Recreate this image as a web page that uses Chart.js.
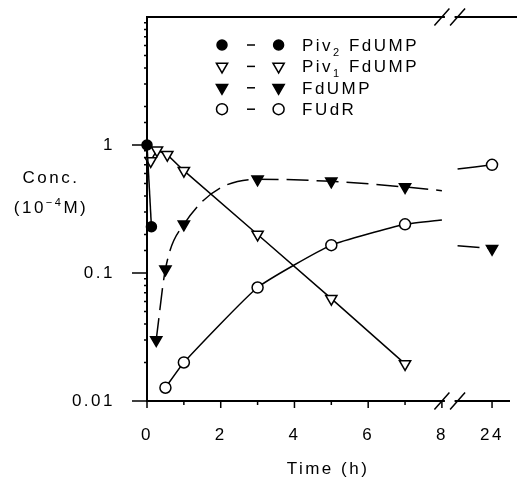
<!DOCTYPE html>
<html lang="en">
<head>
<meta charset="UTF-8">
<title>Conc. vs Time</title>
<script src="https://cdn.jsdelivr.net/npm/chart.js"></script>
<style>
  html, body { margin: 0; padding: 0; background: #fff; }
</style>
</head>
<body>
<canvas id="concChart" width="517" height="481"></canvas>
<script>
// times in hours, concentrations in 10^-4 M
const piv2Time = [0, 0.12];
const piv2Conc = [1.0, 0.23];
const piv1Time = [0.1, 0.27, 0.55, 1, 3, 5, 7];
const piv1Conc = [0.75, 0.91, 0.84, 0.63, 0.2, 0.063, 0.0195];
const fdumpTime = [0.25, 0.5, 1, 3, 5, 7, 24];
const fdumpConc = [0.03, 0.107, 0.24, 0.54, 0.52, 0.47, 0.155];
const fudrTime = [0.5, 1, 3, 5, 7, 24];
const fudrConc = [0.0127, 0.02, 0.077, 0.165, 0.24, 0.70];

// where the curves meet the axis break (left side / right side)
const breakTimes = [8, 13];
const fdumpAtBreak = [0.44, 0.163];
const fudrAtBreak = [0.26, 0.65];

const xTickHours = [0, 2, 4, 6, 8, 24];
const xMinorHours = [1, 3, 5, 7];
const yTickValues = [0.01, 0.1, 1];

const FONT = '"Liberation Sans", Arial, sans-serif';
const SPACING = '2.5px';

// broken time axis: linear up to 8 h, compressed after
const breakFrom = 8;
function pos(h) {
  return h <= breakFrom ? h : breakFrom + (h - breakFrom) * 0.085;
}

function buildPoints(times, conc, atBreak) {
  const left = [], right = [];
  times.forEach((h, i) => (h <= breakFrom ? left : right).push({x: pos(h), y: conc[i], mark: true}));
  if (!atBreak) return left;
  return [
    ...left,
    {x: pos(breakTimes[0]), y: atBreak[0], mark: false},
    {x: (pos(breakTimes[0]) + pos(breakTimes[1])) / 2, y: null},
    {x: pos(breakTimes[1]), y: atBreak[1], mark: false},
    ...right
  ];
}

const series = [
  {label: 'Piv2', sub: '2', pts: buildPoints(piv2Time, piv2Conc), style: 'circle', r: 5, fill: '#000', dash: [], curve: 'none'},
  {label: 'Piv1', sub: '1', pts: buildPoints(piv1Time, piv1Conc), style: 'triangle', r: 6.5, fill: '#fff', dash: [], curve: 'none'},
  {label: 'FdUMP', pts: buildPoints(fdumpTime, fdumpConc, fdumpAtBreak), style: 'triangle', r: 6.5, fill: '#000', dash: [22, 8], curve: 'monotone'},
  {label: 'FUdR', pts: buildPoints(fudrTime, fudrConc, fudrAtBreak), style: 'circle', r: 5.5, fill: '#fff', dash: [], curve: 'soft'}
];

function setSpacing(chart) { chart.ctx.letterSpacing = SPACING; }

function drawRich(ctx, parts, x, baseline, align) {
  const widths = parts.map(p => { ctx.font = p[1] + 'px ' + FONT; return ctx.measureText(p[0]).width; });
  const total = widths.reduce((a, b) => a + b, 0);
  let cx = align === 'center' ? x - total / 2 : x;
  ctx.textAlign = 'left';
  ctx.textBaseline = 'alphabetic';
  parts.forEach((p, i) => {
    ctx.font = p[1] + 'px ' + FONT;
    ctx.fillText(p[0], cx, baseline + p[2]);
    cx += widths[i];
  });
}

const frame = {
  id: 'frame',
  beforeLayout: setSpacing,
  beforeDraw: setSpacing,
  afterDraw(chart) {
    const {ctx, chartArea: a, scales: {x, y}} = chart;
    ctx.save();
    ctx.letterSpacing = SPACING;
    ctx.strokeStyle = '#000';
    ctx.fillStyle = '#000';

    // top border
    ctx.lineWidth = 2;
    ctx.beginPath();
    ctx.moveTo(a.left - 1, a.top);
    ctx.lineTo(chart.width, a.top);
    ctx.stroke();

    // tick marks
    ctx.lineWidth = 1.5;
    ctx.beginPath();
    y.ticks.forEach(t => {
      if (t.value >= y.max) return;
      const lg = Math.log10(t.value);
      const major = Math.abs(lg - Math.round(lg)) < 1e-6;
      const py = y.getPixelForValue(t.value);
      ctx.moveTo(a.left, py);
      ctx.lineTo(a.left - (major ? 15 : 3), py);
    });
    xTickHours.forEach(h => {
      const px = x.getPixelForValue(pos(h));
      ctx.moveTo(px, a.bottom);
      ctx.lineTo(px, a.bottom + 7);
    });
    xMinorHours.forEach(h => {
      const px = x.getPixelForValue(pos(h));
      ctx.moveTo(px, a.bottom);
      ctx.lineTo(px, a.bottom + 4);
    });
    ctx.stroke();

    // axis break
    const b1 = x.getPixelForValue(pos(breakTimes[0]));
    const b2 = x.getPixelForValue(pos(breakTimes[1]));
    [a.top, a.bottom].forEach(py => {
      ctx.fillStyle = '#fff';
      ctx.fillRect(b1 + 3, py - 3, b2 - b1 - 6, 6);
      ctx.lineWidth = 1.5;
      ctx.beginPath();
      [b1, b2].forEach(px => {
        ctx.moveTo(px - 7.5, py + 8.5);
        ctx.lineTo(px + 7.5, py - 8.5);
      });
      ctx.stroke();
    });

    // y title
    ctx.fillStyle = '#000';
    drawRich(ctx, [['Conc.', 17, 0]], 51, 183, 'center');
    drawRich(ctx, [['(10', 17, 0], ['\u2212' + '4', 11, -7], ['M)', 17, 0]], 51, 213, 'center');

    // legend
    const lx = a.left + 75, ly = a.top + 28;
    series.forEach((s, i) => {
      const cy = ly + i * 21.4;
      const opts = {pointStyle: s.style, radius: s.r, rotation: s.style === 'triangle' ? 180 : 0, borderWidth: 1.5};
      [lx, lx + 56.6].forEach(px => {
        ctx.fillStyle = s.fill;
        ctx.strokeStyle = '#000';
        ctx.lineWidth = 1.5;
        Chart.helpers.drawPoint(ctx, opts, px, cy);
      });
      ctx.lineWidth = 1.5;
      ctx.beginPath();
      ctx.moveTo(lx + 25, cy);
      ctx.lineTo(lx + 33, cy);
      ctx.stroke();
      ctx.fillStyle = '#000';
      const parts = s.sub
        ? [['Piv', 17, 0], [s.sub, 11, 5], [' FdUMP', 17, 0]]
        : [[s.label, 17, 0]];
      drawRich(ctx, parts, lx + 80, cy + 6, 'left');
    });
    ctx.restore();
  }
};

function noPad(sc) {
  sc.paddingTop = 0;
  sc.paddingBottom = 0;
  sc.paddingLeft = 0;
  sc.paddingRight = 0;
}

const ctx = document.getElementById('concChart').getContext('2d');
new Chart(ctx, {
  type: 'scatter',
  data: {
    datasets: series.map(s => ({
      label: s.label,
      data: s.pts,
      showLine: true,
      clip: false,
      borderColor: '#000',
      borderWidth: 1.5,
      borderDash: s.dash,
      cubicInterpolationMode: s.curve === 'monotone' ? 'monotone' : 'default',
      tension: s.curve === 'soft' ? 0.15 : 0,
      pointStyle: s.style,
      rotation: s.style === 'triangle' ? 180 : 0,
      pointRadius: c => (c.raw && c.raw.mark ? s.r : 0),
      pointBackgroundColor: s.fill,
      pointBorderColor: '#000',
      pointBorderWidth: 1.5
    }))
  },
  plugins: [frame],
  options: {
    responsive: false,
    devicePixelRatio: 1,
    animation: false,
    events: [],
    layout: {padding: {top: 17, right: 5, left: 0, bottom: 0}},
    plugins: {legend: {display: false}, tooltip: {enabled: false}},
    scales: {
      x: {
        type: 'linear',
        min: 0,
        max: 9.82,
        grid: {display: false, drawTicks: false},
        border: {display: true, color: '#000', width: 2},
        afterBuildTicks: sc => { sc.ticks = xTickHours.map(h => ({value: pos(h)})); },
        afterFit: sc => { sc.height = 80; noPad(sc); },
        ticks: {
          autoSkip: false,
          maxRotation: 0,
          padding: 24,
          color: '#000',
          font: {family: FONT, size: 17},
          callback: (v, i) => String(xTickHours[i])
        },
        title: {
          display: true,
          text: 'Time (h)',
          color: '#000',
          font: {family: FONT, size: 17},
          padding: {top: 0, bottom: 1}
        }
      },
      y: {
        type: 'logarithmic',
        min: 0.01,
        max: 10,
        grid: {display: false, drawTicks: false},
        border: {display: true, color: '#000', width: 2},
        afterFit: sc => { sc.width = 147; noPad(sc); },
        ticks: {
          autoSkip: false,
          padding: 32,
          color: '#000',
          font: {family: FONT, size: 17},
          callback: v => {
            const hit = yTickValues.find(t => Math.abs(t - v) / t < 1e-6);
            return hit === undefined ? '' : String(hit);
          }
        }
      }
    }
  }
});
</script>
</body>
</html>
